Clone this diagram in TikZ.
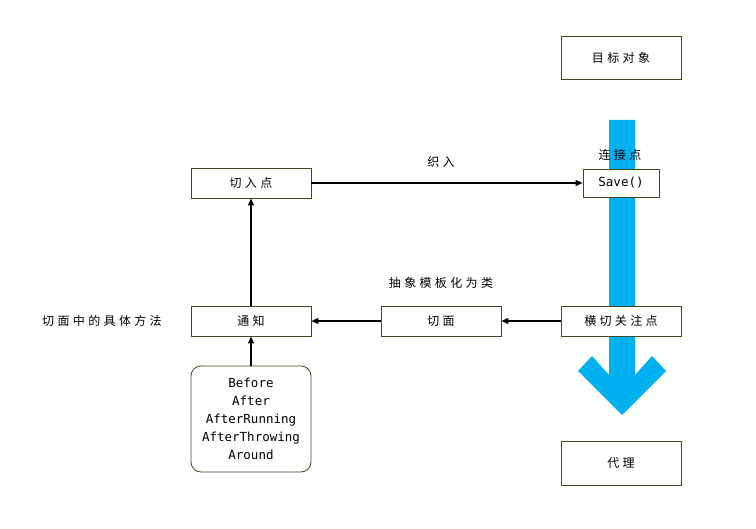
\documentclass[tikz,border=0pt]{standalone}
\usepackage{fontspec}
\setmainfont{Noto Sans CJK SC}[LetterSpace=28]
\newfontfamily\latinmono{DejaVu Sans Mono}
\usetikzlibrary{arrows.meta}
\definecolor{bord}{HTML}{3F4A1E}
\definecolor{arrowblue}{HTML}{00B0F0}
\begin{document}
\begin{tikzpicture}[x=1pt,y=-1pt,
  box/.style={draw=bord,line width=0.8pt,fill=white,minimum width=120pt,minimum height=30pt,inner sep=0pt,font=\fontsize{12}{14}\selectfont},
  lbl/.style={font=\fontsize{12}{14}\selectfont,inner sep=0pt},
  conn/.style={line width=1.1pt,-{Triangle[length=7pt,width=6pt]}}]
\useasboundingbox (0,0) rectangle (756,529);
% blue arrow
\fill[arrowblue] (609,120) -- (635,120) -- (635,375) -- (652,356) -- (666,371) -- (622,415) -- (578,371) -- (592,356) -- (609,375) -- cycle;
\node[box,minimum height=43pt] (target) at (621,57.5) {目标对象};
\node[box] (entry) at (251,183) {切入点};
\node[box,minimum width=76pt,minimum height=28pt,font=\latinmono\fontsize{12.5}{14}\selectfont] (save) at (621,183) {Save()};
\node[box] (cross) at (621,321) {横切关注点};
\node[box] (aspect) at (441,321) {切面};
\node[box] (advice) at (251,321) {通知};
\node[box,minimum height=106pt,rounded corners=10pt,align=center,font=\latinmono\fontsize{12.5}{18}\selectfont] (kinds) at (251,419) {Before\\After\\AfterRunning\\AfterThrowing\\Around};
\node[box,minimum height=44pt] (proxy) at (621,463) {代理};
\node[lbl] (weave) at (441,162) {织入};
\node[lbl] (join) at (620,155) {连接点};
\node[lbl] (abstr) at (441,283) {抽象模板化为类};
\node[lbl] (method) at (102,321) {切面中的具体方法};
\draw[conn] (entry) -- (save);
\draw[conn] (cross) -- (aspect);
\draw[conn] (aspect) -- (advice);
\draw[conn] (advice) -- (entry);
\draw[conn] (kinds) -- (advice);
\end{tikzpicture}
\end{document}
